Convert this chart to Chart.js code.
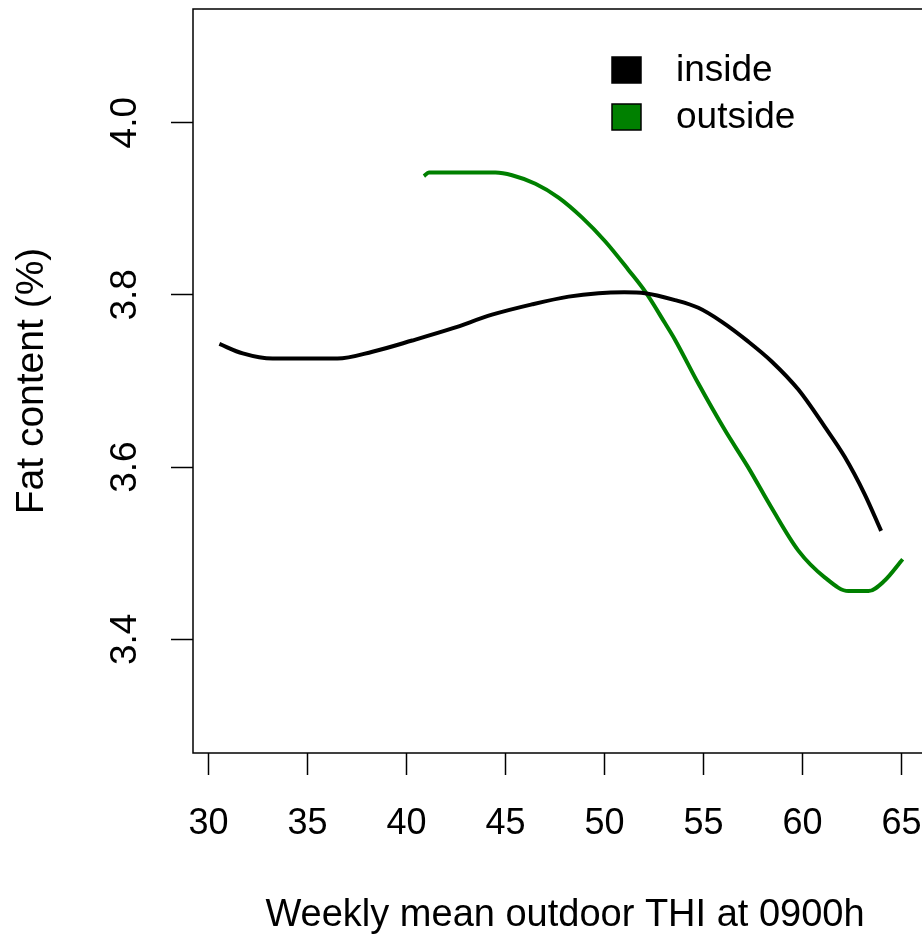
<!DOCTYPE html>
<html>
<head>
<meta charset="utf-8">
<script src="https://cdn.jsdelivr.net/npm/chart.js@4"></script>
<style>
    html, body { margin: 0; padding: 0; background: #fff; overflow: hidden; }
    #wrap { width: 922px; height: 939px; overflow: hidden; }
</style>
</head>
<body>
<div id="wrap"><canvas id="fat-chart" width="940" height="939"></canvas></div>
<script>
// weekly mean outdoor THI (x) and fat content (y)
const insideX = [30.55, 31.73, 33.24, 34.58, 36.51, 38.28, 40.29, 42.31, 44.32, 46.34, 48.19, 49.70, 51.0, 52.05, 53.56, 54.74, 55.91, 57.25, 58.43, 59.79, 61.12, 62.13, 63.13, 63.97];
const insideY = [3.743, 3.732, 3.726, 3.726, 3.726, 3.734, 3.747, 3.761, 3.777, 3.789, 3.798, 3.802, 3.803, 3.802, 3.794, 3.785, 3.769, 3.746, 3.723, 3.690, 3.647, 3.612, 3.569, 3.526];

const outsideX = [40.88, 41.13, 42.6, 44.49, 45.33, 46.51, 47.68, 48.86, 50.04, 51.21, 52.05, 53.06, 53.56, 54.74, 56.08, 57.25, 58.43, 59.79, 61.12, 62.32, 63.33, 64.14, 65.06];
const outsideY = [3.938, 3.942, 3.942, 3.942, 3.939, 3.929, 3.913, 3.890, 3.862, 3.829, 3.804, 3.767, 3.748, 3.697, 3.643, 3.600, 3.553, 3.503, 3.472, 3.456, 3.456, 3.468, 3.493];

const seriesNames = ['inside', 'outside'];
const seriesColors = ['#000000', '#008000'];

const xTicks = [30, 35, 40, 45, 50, 55, 60, 65];
const yTicks = [3.4, 3.6, 3.8, 4.0];

const toPoints = (xs, ys) => xs.map((x, i) => ({x: x, y: ys[i]}));
const font = 'Liberation Sans, Arial, sans-serif';

// no automatic overhang padding, the plot box is placed by hand
const noPadding = (scale) => {
    scale.paddingTop = 0;
    scale.paddingBottom = 0;
    scale.paddingLeft = 0;
    scale.paddingRight = 0;
};

// R style box around the plot region
const boxPlugin = {
    id: 'box',
    beforeDatasetsDraw(chart) {
        const {ctx, chartArea} = chart;
        ctx.save();
        ctx.strokeStyle = '#000';
        ctx.lineWidth = 1.5;
        ctx.strokeRect(chartArea.left, chartArea.top, chartArea.right - chartArea.left, chartArea.bottom - chartArea.top);
        ctx.restore();
    }
};

// filled-square legend in the upper right of the plot
const legendPlugin = {
    id: 'squareLegend',
    afterDraw(chart) {
        const {ctx, chartArea} = chart;
        const left = chartArea.left + 419;
        const top = chartArea.top + 61;
        ctx.save();
        chart.data.datasets.forEach((ds, i) => {
            const cy = top + i * 47;
            ctx.fillStyle = ds.borderColor;
            ctx.fillRect(left, cy - 13, 29, 26);
            ctx.strokeStyle = '#000';
            ctx.lineWidth = 1.5;
            ctx.strokeRect(left, cy - 13, 29, 26);
            ctx.fillStyle = '#000';
            ctx.font = '37px ' + font;
            ctx.textBaseline = 'middle';
            ctx.textAlign = 'left';
            ctx.fillText(ds.label, left + 64, cy + 1);
        });
        ctx.restore();
    }
};

new Chart(document.getElementById('fat-chart'), {
    type: 'scatter',
    data: {
        datasets: [{
            label: seriesNames[0],
            data: toPoints(insideX, insideY),
            showLine: true,
            borderColor: seriesColors[0],
            borderWidth: 4,
            pointRadius: 0,
            cubicInterpolationMode: 'monotone'
        }, {
            label: seriesNames[1],
            data: toPoints(outsideX, outsideY),
            showLine: true,
            borderColor: seriesColors[1],
            borderWidth: 4,
            pointRadius: 0,
            cubicInterpolationMode: 'monotone'
        }]
    },
    options: {
        responsive: false,
        animation: false,
        devicePixelRatio: 1,
        layout: {
            autoPadding: false,
            padding: {top: 9, right: 3, bottom: 0, left: 0}
        },
        scales: {
            x: {
                type: 'linear',
                min: 29.217,
                max: 66.793,
                afterFit: (scale) => { scale.height = 186; noPadding(scale); },
                afterBuildTicks: (scale) => { scale.ticks = xTicks.map(v => ({value: v})); },
                border: {display: false},
                grid: {drawOnChartArea: false, drawTicks: true, tickLength: 22, tickColor: '#000', tickWidth: 1.5},
                ticks: {
                    color: '#000',
                    font: {family: font, size: 36},
                    padding: 27,
                    maxRotation: 0,
                    autoSkip: false
                },
                title: {
                    display: true,
                    text: 'Weekly mean outdoor THI at 0900h',
                    color: '#000',
                    font: {family: font, size: 38},
                    padding: {top: 0, bottom: 1}
                }
            },
            y: {
                type: 'linear',
                min: 3.268,
                max: 4.132,
                afterFit: (scale) => { scale.width = 193; noPadding(scale); },
                afterBuildTicks: (scale) => { scale.ticks = yTicks.map(v => ({value: v})); },
                border: {display: false},
                grid: {drawOnChartArea: false, drawTicks: true, tickLength: 22, tickColor: '#000', tickWidth: 1.5},
                ticks: {
                    color: '#000',
                    font: {family: font, size: 37},
                    padding: 19,
                    minRotation: 90,
                    maxRotation: 90,
                    crossAlign: 'center',
                    autoSkip: false,
                    callback: (v) => Number(v).toFixed(1)
                },
                title: {
                    display: true,
                    text: 'Fat content (%)',
                    color: '#000',
                    font: {family: font, size: 39},
                    padding: {top: 9, bottom: 0}
                }
            }
        },
        plugins: {
            legend: {display: false},
            tooltip: {enabled: false}
        }
    },
    plugins: [boxPlugin, legendPlugin]
});
</script>
</body>
</html>
